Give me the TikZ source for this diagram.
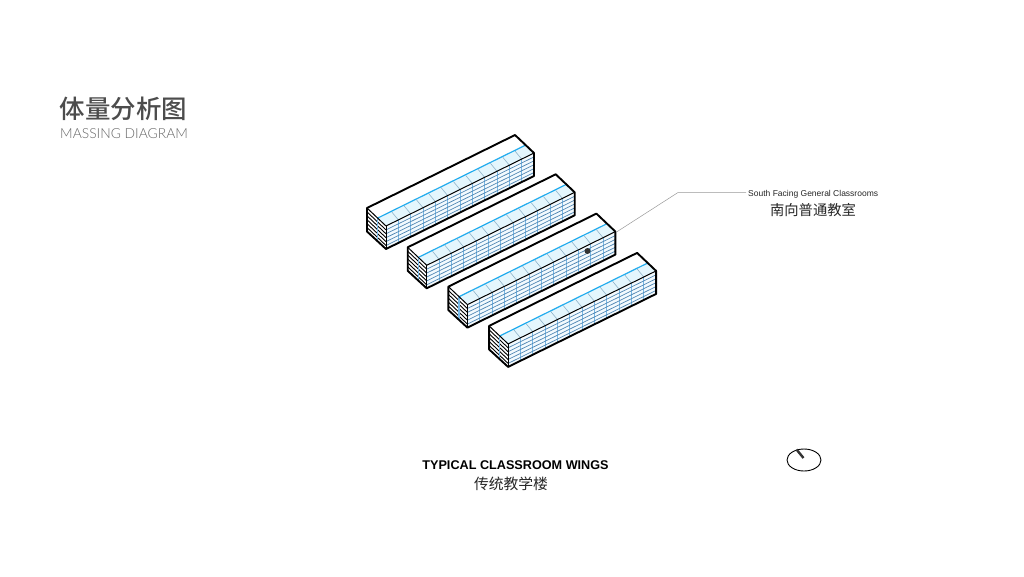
\documentclass[tikz,border=0pt]{standalone}
\usepackage{fontspec}
\usetikzlibrary{shapes.geometric}
\setmainfont{Liberation Sans}
\newfontfamily\cjk{Noto Sans CJK SC}
\newfontfamily\cjkmed{Noto Sans CJK SC Medium}
\newfontfamily\lightlat{Lato Light}
\definecolor{floorc}{HTML}{4F86B3}
\definecolor{bayc}{HTML}{78B8E6}
\definecolor{stripc}{HTML}{8FB2C8}
\definecolor{roofc}{HTML}{22ACEE}
\definecolor{stripbg}{HTML}{E4F6FD}
\definecolor{facebg}{HTML}{F3FAFE}
\tikzset{
  outline/.style={draw=black,line width=1.9pt,line join=round},
  edgeline/.style={draw=black,line width=1pt},
  endline/.style={draw=black,line width=.9pt},
  floorline/.style={draw=floorc,line width=.7pt},
  bayline/.style={draw=bayc,line width=.9pt},
  stripline/.style={draw=stripc,line width=.6pt},
  roofline/.style={draw=roofc,line width=1.2pt},
  stripfill/.style={fill=stripbg},
  labeltext/.style={inner sep=0pt,text=black!85},
  leader/.style={draw=black!40,line width=.5pt},
  wing/.pic={
    \coordinate (L) at (0,0);
    \coordinate (F) at (19,18);
    \coordinate (R) at (167,-55);
    \coordinate (B) at (148,-73);
    \path[stripfill] (10.6,10.1) -- (158.6,-62.9) -- (R) -- (F) -- cycle;
    \path[fill=facebg] (F) -- (R) -- (167,-32) -- (19,41) -- cycle;
    \foreach \k in {1,...,11}{
      \draw[bayline] ({19+\k*12.33},{18-\k*6.083}) -- ({19+\k*12.33},{41-\k*6.083});
      \draw[stripline] ({19+\k*12.33},{18-\k*6.083}) -- ({12.5+\k*12.33},{10.1-\k*6.083});
    }
    \foreach \f in {1,...,5}{
      \draw[floorline] (19,{18+\f*3.9}) -- (167,{-55+\f*3.9});
      \draw[endline] (0,{\f*3.9}) -- (19,{18+\f*3.9});
    }
    \draw[roofline] (10.6,10.1) -- (158.6,-62.9);
    \draw[bayline,line width=1.1pt] (10.6,10.1) -- (10.6,33);
    \draw[edgeline] (F) -- (R);
    \draw[edgeline] (F) -- (19,41);
    \draw[edgeline] (L) -- (F);
    \draw[outline] (L) -- (B) -- (R) -- (167,-32) -- (19,41) -- (0,23.5) -- cycle;
  }
}
\begin{document}
\begin{tikzpicture}[x=1pt,y=-1pt]
\useasboundingbox[fill=white] (0,0) rectangle (1024,576);
\node[inner sep=0pt,anchor=west,text=black!70] (title) at (59.5,109) {\cjkmed\fontsize{25.5}{26}\selectfont 体量分析图};
\node[inner sep=0pt,anchor=west,text=black!60] (subtitle) at (60,133.5) {\lightlat\fontsize{13.85}{15}\selectfont MASSING DIAGRAM};
\pic at (367,208) {wing};
\pic at (407.7,247.3) {wing};
\pic at (448.4,286.6) {wing};
\pic at (489.1,325.9) {wing};
\node[fill=black!80,circle,inner sep=0pt,minimum size=6pt] (dot) at (587.5,251) {};
\node[labeltext,anchor=west] (en) at (748,194) {\fontsize{8.5}{9}\selectfont South Facing General Classrooms};
\node[labeltext] (cn) at (813,210.5) {\cjk\fontsize{14.3}{14}\selectfont 南向普通教室};
\coordinate (lstart) at (616.5,232);
\coordinate (lbend) at (678,192.5);
\coordinate (lend) at (746,192.5);
\draw[leader] (lstart) -- (lbend) -- (lend);
\node[inner sep=0pt,text=black] (cap) at (515.5,465) {\bfseries\fontsize{12.65}{13}\selectfont TYPICAL CLASSROOM WINGS};
\node[labeltext] (capcn) at (511,484) {\cjk\fontsize{14.8}{15}\selectfont 传统教学楼};
\node[draw=black,line width=.9pt,ellipse,inner sep=0pt,minimum width=34pt,minimum height=22pt] (compass) at (804,460) {};
\coordinate (needletip) at (796.5,449.5);
\coordinate (needle) at (803.5,458);
\draw[black!80,line width=2.4pt] (needletip) -- (needle);
\end{tikzpicture}
\end{document}
